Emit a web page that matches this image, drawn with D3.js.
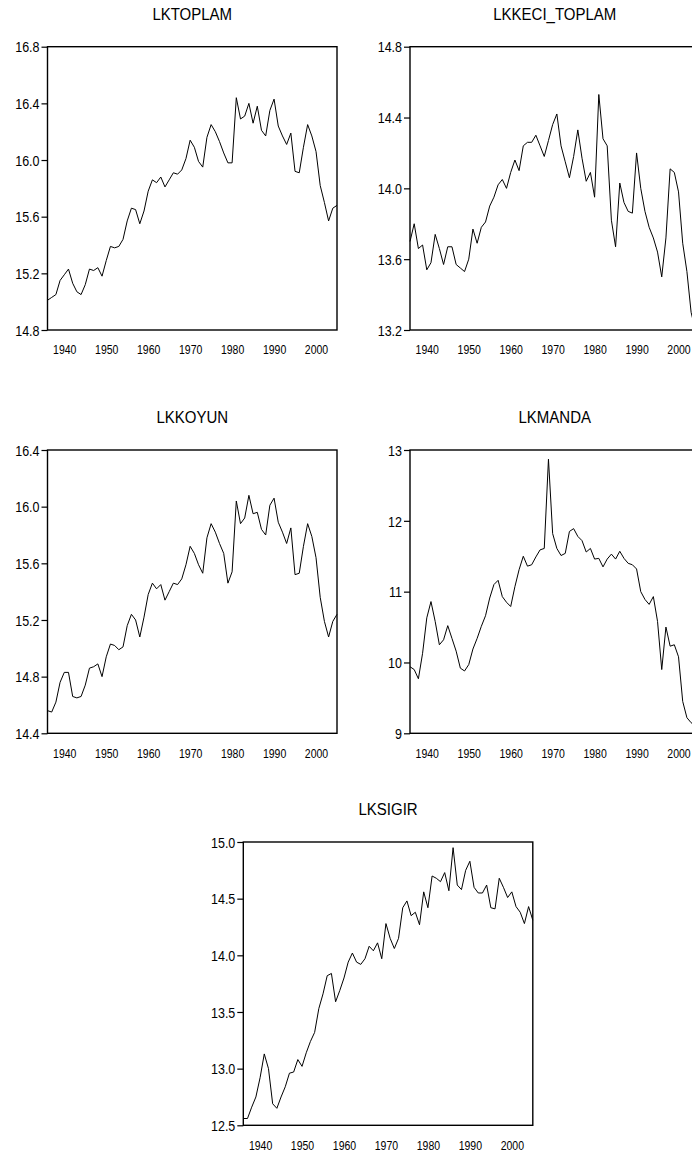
<!DOCTYPE html>
<html>
<head>
<meta charset="utf-8">
<script src="https://cdn.jsdelivr.net/npm/d3@7"></script>
<style>
  body { margin: 0; background: #fff; }
  svg { display: block; overflow: hidden; }
  text { font-family: "Liberation Sans", Arial, sans-serif; fill: #000; }
</style>
</head>
<body>
<div id="chart"></div>
<script>
////////////////////////////////////////////////////////////////////////////////////////
// Data (annual, 1936-2005)
var years = d3.range(1936, 2006);

var lktoplam = [15.01, 15.03, 15.05, 15.15, 15.19, 15.23, 15.13, 15.07, 15.05, 15.12,
    15.23, 15.22, 15.24, 15.18, 15.29, 15.39, 15.38, 15.39, 15.44, 15.57,
    15.66, 15.65, 15.55, 15.64, 15.78, 15.86, 15.84, 15.88, 15.81, 15.86,
    15.91, 15.90, 15.93, 16.01, 16.14, 16.09, 15.99, 15.95, 16.16, 16.25,
    16.20, 16.13, 16.05, 15.98, 15.98, 16.44, 16.29, 16.31, 16.40, 16.26,
    16.38, 16.21, 16.17, 16.35, 16.43, 16.24, 16.17, 16.11, 16.19, 15.92,
    15.91, 16.09, 16.25, 16.17, 16.06, 15.82, 15.70, 15.57, 15.66, 15.68];

var lkkeciToplam = [13.70, 13.80, 13.66, 13.68, 13.54, 13.58, 13.74, 13.66, 13.57, 13.67,
    13.67, 13.57, 13.55, 13.53, 13.60, 13.77, 13.69, 13.78, 13.81, 13.90,
    13.95, 14.02, 14.05, 14.00, 14.09, 14.16, 14.10, 14.24, 14.26, 14.26,
    14.30, 14.24, 14.18, 14.27, 14.36, 14.42, 14.24, 14.15, 14.06, 14.18,
    14.33, 14.17, 14.04, 14.09, 13.95, 14.53, 14.28, 14.24, 13.82, 13.67,
    14.03, 13.92, 13.87, 13.86, 14.20, 14.00, 13.87, 13.78, 13.72, 13.64,
    13.50, 13.72, 14.11, 14.09, 13.98, 13.69, 13.53, 13.30, 13.20, 13.10];

var lkkoyun = [14.56, 14.55, 14.62, 14.76, 14.83, 14.83, 14.66, 14.65, 14.66, 14.74,
    14.86, 14.87, 14.89, 14.80, 14.94, 15.03, 15.02, 14.99, 15.01, 15.16,
    15.24, 15.20, 15.08, 15.22, 15.38, 15.46, 15.42, 15.45, 15.34, 15.40,
    15.46, 15.45, 15.49, 15.59, 15.72, 15.67, 15.59, 15.53, 15.78, 15.88,
    15.82, 15.74, 15.67, 15.46, 15.54, 16.04, 15.88, 15.92, 16.08, 15.95,
    15.96, 15.84, 15.80, 16.01, 16.06, 15.89, 15.82, 15.74, 15.85, 15.52,
    15.53, 15.72, 15.88, 15.79, 15.64, 15.36, 15.19, 15.08, 15.19, 15.24];

var lkmanda = [9.94, 9.90, 9.77, 10.13, 10.63, 10.86, 10.58, 10.25, 10.32, 10.52,
    10.34, 10.16, 9.92, 9.88, 9.97, 10.19, 10.34, 10.51, 10.66, 10.91,
    11.10, 11.16, 10.93, 10.85, 10.79, 11.07, 11.31, 11.50, 11.36, 11.38,
    11.49, 11.59, 11.61, 12.87, 11.82, 11.61, 11.51, 11.54, 11.85, 11.89,
    11.78, 11.72, 11.56, 11.61, 11.46, 11.47, 11.35, 11.46, 11.53, 11.46,
    11.57, 11.47, 11.40, 11.38, 11.32, 11.00, 10.89, 10.82, 10.93, 10.58,
    9.90, 10.50, 10.23, 10.25, 10.08, 9.45, 9.22, 9.15, 9.10, 9.05];

var lksigir = [12.56, 12.56, 12.66, 12.75, 12.92, 13.13, 13.00, 12.69, 12.65, 12.75,
    12.84, 12.96, 12.97, 13.08, 13.02, 13.14, 13.24, 13.32, 13.53, 13.66,
    13.82, 13.84, 13.59, 13.69, 13.80, 13.94, 14.02, 13.94, 13.92, 13.97,
    14.08, 14.04, 14.11, 13.97, 14.28, 14.15, 14.06, 14.15, 14.42, 14.48,
    14.35, 14.38, 14.27, 14.56, 14.42, 14.70, 14.68, 14.65, 14.73, 14.57,
    14.95, 14.62, 14.58, 14.75, 14.83, 14.60, 14.55, 14.55, 14.62, 14.42,
    14.41, 14.68, 14.60, 14.51, 14.56, 14.43, 14.38, 14.28, 14.43, 14.31];

// Tick labels
var yearTicks = [1940, 1950, 1960, 1970, 1980, 1990, 2000];
var ticksToplam = [14.8, 15.2, 15.6, 16.0, 16.4, 16.8];
var ticksKeci = [13.2, 13.6, 14.0, 14.4, 14.8];
var ticksKoyun = [14.4, 14.8, 15.2, 15.6, 16.0, 16.4];
var ticksManda = [9, 10, 11, 12, 13];
var ticksSigir = [12.5, 13.0, 13.5, 14.0, 14.5, 15.0];

////////////////////////////////////////////////////////////////////////////////////////
// Canvas
var svgWidth = 692;
var svgHeight = 1155;
var panelWidth = 289.5;
var panelHeight = 283.3;
var stretch = 1.16;   // the reference text is a little taller than it is wide

var svg = d3.select("#chart").append("svg").attr("width", svgWidth).attr("height", svgHeight);

var panels = [
    {title: "LKTOPLAM", values: lktoplam, ticks: ticksToplam, fmt: ".1f", left: 47.5, top: 46.7},
    {title: "LKKECI_TOPLAM", values: lkkeciToplam, ticks: ticksKeci, fmt: ".1f", left: 410, top: 46.7},
    {title: "LKKOYUN", values: lkkoyun, ticks: ticksKoyun, fmt: ".1f", left: 47.5, top: 450},
    {title: "LKMANDA", values: lkmanda, ticks: ticksManda, fmt: "d", left: 410, top: 450},
    {title: "LKSIGIR", values: lksigir, ticks: ticksSigir, fmt: ".1f", left: 243.3, top: 842}
];

////////////////////////////////////////////////////////////////////////////////////////
// One panel: title, framed plot, left and bottom axes, the series line
function drawPanel(p) {
    var g = svg.append("g").attr("transform", `translate(${p.left}, ${p.top})`);

    var x = d3.scaleLinear().domain([years[0], years[years.length - 1]]).range([0, panelWidth]);
    var y = d3.scaleLinear().domain(d3.extent(p.ticks)).range([panelHeight, 0]);

    // title
    g.append("text")
        .attr("transform", `translate(${panelWidth / 2}, -33.4) scale(1, ${stretch})`)
        .attr("text-anchor", "middle")
        .attr("dy", "0.36em")
        .style("font-size", "15px")
        .text(p.title);

    // y axis
    var yAxis = g.append("g").call(d3.axisLeft(y).tickValues(p.ticks).tickSize(6).tickFormat(d3.format(p.fmt)));
    yAxis.select(".domain").remove();
    yAxis.selectAll("line").attr("stroke", "#000").attr("stroke-width", 1.2);
    yAxis.selectAll("text")
        .attr("x", null).attr("y", null)
        .attr("transform", `translate(-8, 0) scale(1, ${stretch})`)
        .attr("dy", "0.36em")
        .style("font-size", "12.5px")
        .style("font-family", "'Liberation Sans', Arial, sans-serif");

    // x axis (labels only, no tick marks in the reference)
    var xAxis = g.append("g").attr("transform", `translate(0, ${panelHeight})`)
        .call(d3.axisBottom(x).tickValues(yearTicks).tickSize(0).tickFormat(d3.format("d")));
    xAxis.select(".domain").remove();
    xAxis.selectAll("line").remove();
    xAxis.selectAll("text")
        .attr("y", null)
        .attr("transform", `translate(0, 20) scale(1, ${stretch})`)
        .attr("dy", "0.36em")
        .style("font-size", "10.5px")
        .style("font-family", "'Liberation Sans', Arial, sans-serif");

    // series
    var line = d3.line()
        .x(function(d, i) { return x(years[i]); })
        .y(function(d) { return y(d); });

    g.append("path")
        .datum(p.values)
        .attr("d", line)
        .attr("fill", "none")
        .attr("stroke", "#000")
        .attr("stroke-width", 1)
        .attr("stroke-linejoin", "round");

    // frame
    g.append("rect")
        .attr("width", panelWidth)
        .attr("height", panelHeight)
        .attr("fill", "none")
        .attr("stroke", "#000")
        .attr("stroke-width", 1.4);
}

panels.forEach(drawPanel);
</script>
</body>
</html>
